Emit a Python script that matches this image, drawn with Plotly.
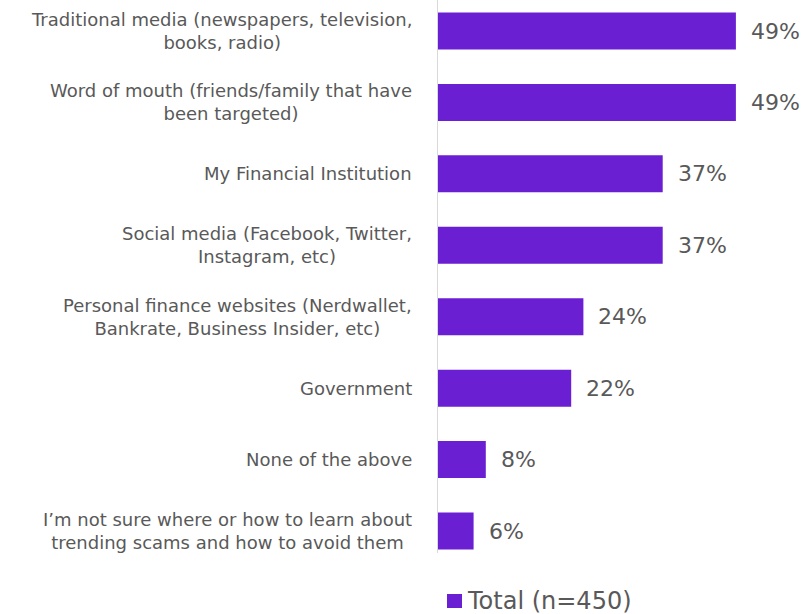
import plotly.graph_objects as go

categories = [
    "Traditional media (newspapers, television,<br>books, radio)",
    "Word of mouth (friends/family that have<br>been targeted)",
    "My Financial Institution",
    "Social media (Facebook, Twitter,<br>Instagram, etc)",
    "Personal finance websites (Nerdwallet,<br>Bankrate, Business Insider, etc)",
    "Government",
    "None of the above",
    "I’m not sure where or how to learn about<br>trending scams and how to avoid them",
]
values = [49, 49, 37, 37, 24, 22, 8, 6]
value_labels = [f"{v}%" for v in values]
series_name = "Total (n=450)"

BAR = "#6B1FD3"
TXT = "#595959"
FONT = "'DejaVu Sans', sans-serif"

idx = list(range(len(categories)))

fig = go.Figure()
fig.add_trace(go.Bar(
    y=idx, x=values, orientation="h", name=series_name,
    marker=dict(color=BAR, line=dict(width=0)), width=0.518,
    showlegend=False, hoverinfo="skip",
))

for i, (c, v, t) in enumerate(zip(categories, values, value_labels)):
    fig.add_annotation(x=0, y=i, xref="x", yref="y", text=c, showarrow=False,
                       xanchor="right", yanchor="middle", align="center", xshift=-23,
                       font=dict(family=FONT, size=18, color=TXT))
    fig.add_annotation(x=v, y=i, xref="x", yref="y", text=t, showarrow=False,
                       xanchor="left", yanchor="middle", xshift=13,
                       font=dict(family=FONT, size=22, color=TXT))

# legend (swatch + label)
fig.add_shape(type="rect", xref="x", xsizemode="pixel", xanchor=0, x0=10, x1=25,
              yref="paper", ysizemode="pixel", yanchor=0, y0=-41, y1=-55,
              fillcolor=BAR, line=dict(width=0))
fig.add_annotation(x=0, y=0, xref="x", yref="paper", text=series_name, showarrow=False,
                   xanchor="left", yanchor="middle", xshift=28, yshift=-48,
                   font=dict(family=FONT, size=24, color=TXT))

fig.update_layout(
    width=805, height=614,
    margin=dict(l=437, r=2, t=0, b=61, autoexpand=False),
    plot_bgcolor="white", paper_bgcolor="white",
    xaxis=dict(range=[0, 60], visible=False),
    yaxis=dict(range=[7.308, -0.434], showticklabels=False, showgrid=False,
               zeroline=False, showline=False, ticks=""),
    showlegend=False,
    font=dict(family=FONT, color=TXT),
)
fig.add_shape(type="line", xref="x", yref="paper", x0=0, x1=0, y0=0, y1=1,
              line=dict(color="#D9D9D9", width=2))

fig.write_html("out.html", config={"displayModeBar": False},
               post_script="document.body.style.margin='0';")
